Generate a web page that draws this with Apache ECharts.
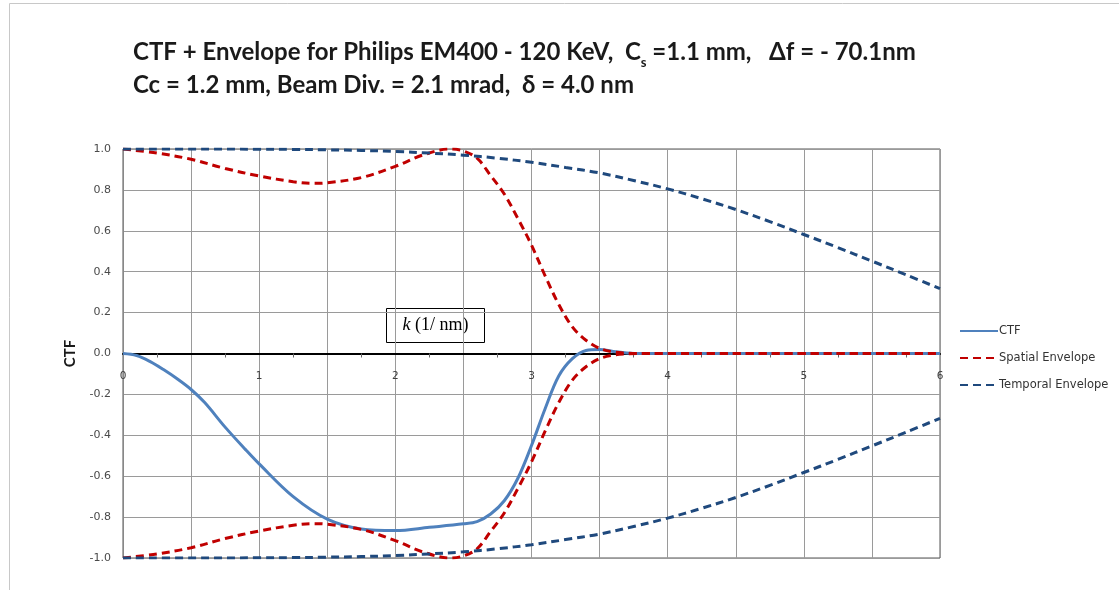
<!DOCTYPE html>
<html lang="en">
<head>
    <meta charset="UTF-8">
    <title>CTF + Envelope</title>
    <script src="https://cdn.jsdelivr.net/npm/echarts@6/dist/echarts.min.js"></script>
</head>
<body style="margin:0;background:#fff;">
    <div id="main" style="width:1119px;height:590px;"></div>
    <script>
        // values (k in 1/nm)
        var ctfK = [0, 0.1, 0.2, 0.3, 0.4, 0.5, 0.6, 0.75, 0.9, 1.0, 1.25, 1.5, 1.75, 2.0, 2.25, 2.5, 2.6, 2.7, 2.8, 2.9, 3.0, 3.1, 3.2, 3.3, 3.4, 3.5, 3.6, 3.7, 3.8, 4, 5, 6];
        var ctfV = [0, -0.01, -0.04, -0.08, -0.125, -0.176, -0.24, -0.36, -0.47, -0.54, -0.70, -0.81, -0.858, -0.866, -0.85, -0.833, -0.822, -0.785, -0.72, -0.61, -0.45, -0.27, -0.11, -0.025, 0.015, 0.02, 0.01, 0.003, 0, 0, 0, 0];

        var spatialK = [0, 0.25, 0.5, 0.75, 1.0, 1.25, 1.4, 1.5, 1.75, 2.0, 2.2, 2.4, 2.5, 2.6, 2.7, 2.8, 2.9, 3.0, 3.1, 3.2, 3.3, 3.4, 3.5, 3.6, 3.7, 3.8, 4, 5, 6];
        var spatialV = [1.0, 0.98, 0.95, 0.905, 0.868, 0.84, 0.832, 0.835, 0.86, 0.915, 0.97, 1.0, 0.99, 0.955, 0.87, 0.78, 0.66, 0.53, 0.38, 0.24, 0.13, 0.065, 0.025, 0.008, 0.002, 0, 0, 0, 0];

        var temporalK = [0, 0.5, 1, 1.25, 1.5, 1.75, 2, 2.25, 2.5, 2.75, 3, 3.25, 3.5, 3.75, 4, 4.25, 4.5, 4.75, 5, 5.25, 5.5, 5.75, 6];
        var temporalV = [1, 1, 0.999, 0.998, 0.996, 0.993, 0.988, 0.98, 0.97, 0.955, 0.935, 0.91, 0.883, 0.846, 0.805, 0.757, 0.704, 0.645, 0.582, 0.518, 0.452, 0.385, 0.317];

        function pairs(ks, vs, sign) {
            return ks.map(function (k, i) { return [k, sign * vs[i]]; });
        }

        var dash = [8, 5];
        function line(name, data, color, type) {
            return {
                name: name,
                type: 'line',
                data: data,
                showSymbol: false,
                symbol: 'none',
                smooth: 0.35,
                lineStyle: { color: color, width: 3, type: type },
                itemStyle: { color: color },
                animation: false
            };
        }

        var myChart = echarts.init(document.getElementById('main'));
        myChart.setOption({
            title: {
                left: 128,
                top: 31,
                text: 'CTF + Envelope for Philips EM400 - 120 KeV,  C{sub|s} =1.1 mm,   Δf = - 70.1nm\nCc = 1.2 mm, Beam Div. = 2.1 mrad,  δ = 4.0 nm',
                textStyle: {
                    fontFamily: 'Lato',
                    fontWeight: 'bold',
                    fontSize: 24,
                    lineHeight: 33,
                    color: '#1a1a1a',
                    rich: {
                        sub: { fontFamily: 'Lato', fontWeight: 'bold', fontSize: 13, color: '#1a1a1a', verticalAlign: 'bottom', padding: [9, 0, 0, 0] }
                    }
                }
            },
            legend: {
                orient: 'vertical',
                left: 954,
                top: 320,
                itemWidth: 38,
                itemHeight: 10,
                itemGap: 15,
                itemStyle: { color: 'transparent', borderWidth: 0 },
                textStyle: { fontFamily: 'DejaVu Sans', fontSize: 11.5, color: '#333', padding: [0, 0, 0, -4] },
                data: ['CTF', 'Spatial Envelope', 'Temporal Envelope']
            },
            grid: {
                left: 123,
                right: 179,
                top: 149,
                bottom: 32,
                show: true,
                borderColor: '#555',
                borderWidth: 1
            },
            xAxis: {
                type: 'value',
                min: 0,
                max: 6,
                interval: 0.5,
                axisLine: { onZero: true, lineStyle: { color: '#000', width: 2 } },
                axisTick: { show: false },
                minorTick: { show: true, splitNumber: 2, length: 4, lineStyle: { color: '#666' } },
                axisLabel: {
                    margin: -187,
                    fontFamily: 'DejaVu Sans',
                    fontSize: 10.5,
                    color: '#404040',
                    formatter: function (v) { return v % 1 === 0 ? String(v) : ''; }
                },
                splitLine: { show: true, lineStyle: { color: '#9a9a9a', width: 1 } }
            },
            yAxis: {
                type: 'value',
                min: -1,
                max: 1,
                interval: 0.2,
                name: 'CTF',
                nameLocation: 'middle',
                nameGap: 45,
                nameTextStyle: { fontFamily: 'Lato', fontWeight: 'bold', fontSize: 15, color: '#1a1a1a' },
                axisLine: { show: true, onZero: false, lineStyle: { color: '#888' } },
                axisTick: { show: false },
                axisLabel: {
                    margin: 12,
                    fontFamily: 'DejaVu Sans',
                    fontSize: 11,
                    color: '#4a4a4a',
                    formatter: function (v) { return v.toFixed(1); }
                },
                splitLine: { show: true, lineStyle: { color: '#9a9a9a', width: 1 } }
            },
            graphic: [
                {
                    type: 'rect',
                    left: 7, top: 1,
                    shape: { width: 1130, height: 600 },
                    style: { fill: 'none', stroke: '#c8c8c8', lineWidth: 1 },
                    silent: true
                },
                {
                    type: 'group',
                    left: 386, top: 308,
                    z: 100,
                    children: [
                        {
                            type: 'rect',
                            shape: { x: 0, y: 0, width: 98, height: 34 },
                            style: { fill: '#fff', stroke: '#000', lineWidth: 1 }
                        },
                        {
                            type: 'text',
                            x: 49, y: 17,
                            style: {
                                text: '{i|k} (1/ nm)',
                                align: 'center',
                                verticalAlign: 'middle',
                                font: '18px "Liberation Serif"',
                                fill: '#000',
                                rich: { i: { fontStyle: 'italic', fontFamily: 'Liberation Serif', fontSize: 18 } }
                            }
                        }
                    ]
                }
            ],
            series: [
                line('CTF', pairs(ctfK, ctfV, 1), '#4F81BD', 'solid'),
                line('Spatial Envelope', pairs(spatialK, spatialV, 1), '#C00000', dash),
                line('Spatial Envelope', pairs(spatialK, spatialV, -1), '#C00000', dash),
                line('Temporal Envelope', pairs(temporalK, temporalV, 1), '#1F497D', dash),
                line('Temporal Envelope', pairs(temporalK, temporalV, -1), '#1F497D', dash)
            ]
        });
    </script>
</body>
</html>
